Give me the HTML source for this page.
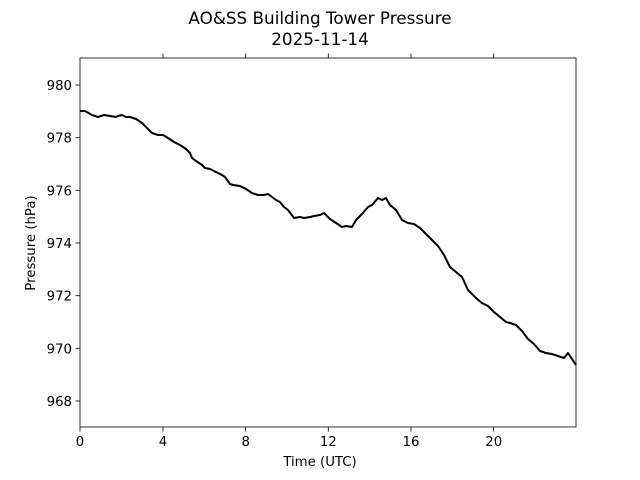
<!DOCTYPE html>
<html><head><meta charset="utf-8"><style>body{margin:0;background:#fff}svg{display:block}text{font-family:"DejaVu Sans","Liberation Sans",sans-serif;fill:#000}</style></head>
<body>
<svg width="640" height="480" viewBox="0 0 640 480" xmlns="http://www.w3.org/2000/svg">
<text x="320" y="24" font-size="16.8" text-anchor="middle">AO&amp;SS Building Tower Pressure</text>
<text x="320" y="45" font-size="16.8" text-anchor="middle">2025-11-14</text>
<g stroke="#000" stroke-width="0.8">
<line x1="80" y1="427" x2="80" y2="431.5"/><line x1="163" y1="427" x2="163" y2="431.5"/><line x1="245.7" y1="427" x2="245.7" y2="431.5"/><line x1="328.3" y1="427" x2="328.3" y2="431.5"/><line x1="411" y1="427" x2="411" y2="431.5"/><line x1="493.7" y1="427" x2="493.7" y2="431.5"/>
<line x1="163" y1="58" x2="163" y2="53.5"/><line x1="245.7" y1="58" x2="245.7" y2="53.5"/><line x1="328.3" y1="58" x2="328.3" y2="53.5"/><line x1="411" y1="58" x2="411" y2="53.5"/><line x1="493.7" y1="58" x2="493.7" y2="53.5"/>
<line x1="80" y1="85" x2="75.5" y2="85"/><line x1="80" y1="137.7" x2="75.5" y2="137.7"/><line x1="80" y1="190.3" x2="75.5" y2="190.3"/><line x1="80" y1="243" x2="75.5" y2="243"/><line x1="80" y1="295.7" x2="75.5" y2="295.7"/><line x1="80" y1="348.3" x2="75.5" y2="348.3"/><line x1="80" y1="401" x2="75.5" y2="401"/>
</g>
<g font-size="13.3" text-anchor="middle">
<text x="80" y="446">0</text><text x="163" y="446">4</text><text x="245.7" y="446">8</text><text x="328.3" y="446">12</text><text x="411" y="446">16</text><text x="493.7" y="446">20</text>
<text x="320" y="466">Time (UTC)</text>
</g>
<g font-size="13.3" text-anchor="end">
<text x="72" y="90">980</text><text x="72" y="142.7">978</text><text x="72" y="195.3">976</text><text x="72" y="248">974</text><text x="72" y="300.7">972</text><text x="72" y="353.3">970</text><text x="72" y="406">968</text>
</g>
<text transform="translate(35,243) rotate(-90)" font-size="13.3" text-anchor="middle">Pressure (hPa)</text>
<polyline fill="none" stroke="#000" stroke-width="2" stroke-linejoin="round" points="80,111 85,111 92,115 98,117 104,115 110,116 116,117 118,116 122,115 126,117 130,117 136,119 142,123 148,129 152,133 158,135 163,135 168,138 174,142 180,145 186,149 190,153 192,158 196,161 202,165 205,168 210,169 216,172 222,175 225,177 230,184 233,185 240,186 246,189 252,193 258,195 264,195 268,194 272,197 276,200 280,202 284,207 288,210 294,218 300,217 304,218 310,217 314,216 320,215 324,213 330,219 336,223 342,227 346,226 352,227 356,220 362,214 368,207 372,205 378,198 382,200 386,198 390,205 396,210 402,220 408,223 414,224 420,228 430,238 438,246 444,255 450,267 456,272 462,277 468,290 476,298 482,303 488,306 494,312 500,317 506,322 510,323 516,325 522,331 528,339 534,344 540,351 546,353 552,354 558,356 564,358 568,353 572,359 576,365"/>
<rect x="80" y="58" width="496" height="369" fill="none" stroke="#000" stroke-width="0.8"/>
</svg>
</body></html>
